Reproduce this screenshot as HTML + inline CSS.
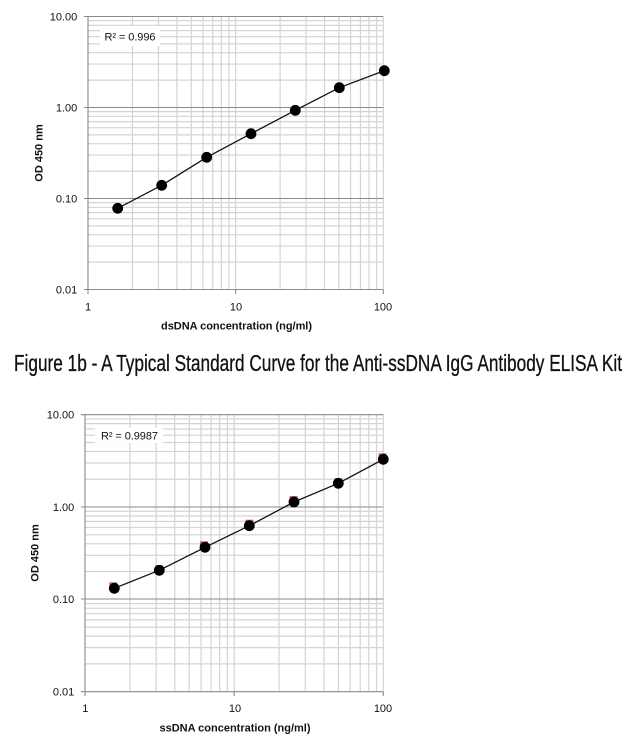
<!DOCTYPE html>
<html><head><meta charset="utf-8"><style>
html,body{margin:0;padding:0;background:#fff;}
svg{display:block;}
text{font-family:"Liberation Sans",sans-serif;}
</style></head><body>
<svg width="629" height="742" viewBox="0 0 629 742" xmlns="http://www.w3.org/2000/svg">
<rect width="629" height="742" fill="#fff"/>

<!-- ============ CHART 1 ============ -->
<g stroke="#d4d4d4" stroke-width="1.2" fill="none">
<path d="M132.45 16.5V289.5M158.45 16.5V289.5M176.89 16.5V289.5M191.2 16.5V289.5M202.9 16.5V289.5M212.78 16.5V289.5M221.34 16.5V289.5M228.89 16.5V289.5M235.65 16.5V289.5M280.1 16.5V289.5M306.1 16.5V289.5M324.54 16.5V289.5M338.85 16.5V289.5M350.55 16.5V289.5M360.43 16.5V289.5M368.99 16.5V289.5M376.54 16.5V289.5M383.3 16.5V289.5"/>
<path d="M88 262.11H383.3M88 246.08H383.3M88 234.71H383.3M88 225.89H383.3M88 218.69H383.3M88 212.6H383.3M88 207.32H383.3M88 202.66H383.3M88 171.11H383.3M88 155.08H383.3M88 143.71H383.3M88 134.89H383.3M88 127.69H383.3M88 121.6H383.3M88 116.32H383.3M88 111.66H383.3M88 80.11H383.3M88 64.08H383.3M88 52.71H383.3M88 43.89H383.3M88 36.69H383.3M88 30.6H383.3M88 25.32H383.3M88 20.66H383.3"/>
</g>
<g stroke="#8a8a8a" stroke-width="1.1" fill="none">
<path d="M84 16.5H383.3M84 107.5H383.3M84 198.5H383.3M84 289.5H383.3"/>
<path d="M88 16.5V289.5M88 289.5V294M235.65 289.5V294M383.3 289.5V294"/>
</g>
<rect x="100" y="26" width="60" height="20" fill="#fff"/>
<text x="104.5" y="40.5" font-size="11" fill="#111" textLength="51">R² = 0.996</text>
<polyline points="117.7,208.3 161.7,185.3 206.7,157.3 251,133.7 295.3,110.3 339.3,87.7 384.3,70.7" fill="none" stroke="#111" stroke-width="1.3" stroke-linejoin="round"/>
<g fill="#000">
<circle cx="117.7" cy="208.3" r="5.4"/>
<circle cx="161.7" cy="185.3" r="5.4"/>
<circle cx="206.7" cy="157.3" r="5.4"/>
<circle cx="251" cy="133.7" r="5.4"/>
<circle cx="295.3" cy="110.3" r="5.4"/>
<circle cx="339.3" cy="87.7" r="5.4"/>
<circle cx="384.3" cy="70.7" r="5.4"/>
</g>
<g font-size="11" fill="#111" text-anchor="end">
<text x="77.3" y="20.5">10.00</text>
<text x="77.3" y="111.5">1.00</text>
<text x="77.3" y="202.5">0.10</text>
<text x="77.3" y="293.5">0.01</text>
</g>
<g font-size="11" fill="#111" text-anchor="middle">
<text x="88" y="310.5">1</text>
<text x="236" y="310.5">10</text>
<text x="383" y="310.5">100</text>
</g>
<text x="236.5" y="329.5" font-size="11" font-weight="bold" fill="#111" text-anchor="middle" textLength="151">dsDNA concentration (ng/ml)</text>
<text transform="translate(42.5,153) rotate(-90)" font-size="11" font-weight="bold" fill="#111" text-anchor="middle">OD 450 nm</text>

<!-- caption -->
<text x="14" y="371" font-size="23" fill="#111" stroke="#111" stroke-width="0.3" style="font-family:'Liberation Sans Narrow','Liberation Sans',sans-serif" textLength="608" lengthAdjust="spacingAndGlyphs">Figure 1b - A Typical Standard Curve for the Anti-ssDNA IgG Antibody ELISA Kit</text>

<!-- ============ CHART 2 ============ -->
<g stroke="#d4d4d4" stroke-width="1.2" fill="none">
<path d="M129.9 414.7V691.7M156.16 414.7V691.7M174.8 414.7V691.7M189.25 414.7V691.7M201.06 414.7V691.7M211.05 414.7V691.7M219.7 414.7V691.7M227.37 414.7V691.7M234.15 414.7V691.7M279.05 414.7V691.7M305.31 414.7V691.7M323.95 414.7V691.7M338.4 414.7V691.7M350.21 414.7V691.7M360.2 414.7V691.7M368.85 414.7V691.7M376.52 414.7V691.7M383.3 414.7V691.7"/>
<path d="M85 663.91H383.3M85 647.65H383.3M85 636.11H383.3M85 627.16H383.3M85 619.85H383.3M85 613.67H383.3M85 608.32H383.3M85 603.6H383.3M85 571.58H383.3M85 555.32H383.3M85 543.78H383.3M85 534.83H383.3M85 527.52H383.3M85 521.34H383.3M85 515.99H383.3M85 511.27H383.3M85 479.24H383.3M85 462.98H383.3M85 451.44H383.3M85 442.49H383.3M85 435.18H383.3M85 429H383.3M85 423.65H383.3M85 418.93H383.3"/>
</g>
<g stroke="#8a8a8a" stroke-width="1.1" fill="none">
<path d="M81 414.7H383.3M81 507H383.3M81 599H383.3M81 691.7H383.3"/>
<path d="M85 414.7V691.7M85 691.7V696M234.15 691.7V696M383.3 691.7V696"/>
</g>
<rect x="95" y="428" width="68" height="15" fill="#fff"/>
<text x="101" y="439.5" font-size="11" fill="#111" textLength="57">R² = 0.9987</text>
<g fill="#c0504d" opacity="0.85">
<rect x="109.3" y="582.3" width="8" height="8"/>
<rect x="155.3" y="565.3" width="8" height="8"/>
<rect x="200" y="541.3" width="8" height="8"/>
<rect x="245.3" y="519.7" width="8" height="8"/>
<rect x="289.5" y="496" width="8" height="8"/>
<rect x="334.3" y="478.3" width="8" height="8"/>
<rect x="378.5" y="453.3" width="8" height="8"/>
</g>
<polyline points="114.3,588.3 159.3,570.3 205,547.3 249.3,525.7 294,502 338.3,483.3 383.3,459.3" fill="none" stroke="#111" stroke-width="1.3" stroke-linejoin="round"/>
<g fill="#000">
<circle cx="114.3" cy="588.3" r="5.4"/>
<circle cx="159.3" cy="570.3" r="5.4"/>
<circle cx="205" cy="547.3" r="5.4"/>
<circle cx="249.3" cy="525.7" r="5.4"/>
<circle cx="294" cy="502" r="5.4"/>
<circle cx="338.3" cy="483.3" r="5.4"/>
<circle cx="383.3" cy="459.3" r="5.4"/>
</g>
<g font-size="11" fill="#111" text-anchor="end">
<text x="74.3" y="418.7">10.00</text>
<text x="74.3" y="511">1.00</text>
<text x="74.3" y="603">0.10</text>
<text x="74.3" y="695.7">0.01</text>
</g>
<g font-size="11" fill="#111" text-anchor="middle">
<text x="85.3" y="712">1</text>
<text x="235" y="712">10</text>
<text x="383" y="712">100</text>
</g>
<text x="235" y="731.5" font-size="11" font-weight="bold" fill="#111" text-anchor="middle" textLength="151">ssDNA concentration (ng/ml)</text>
<text transform="translate(38.5,553) rotate(-90)" font-size="11" font-weight="bold" fill="#111" text-anchor="middle">OD 450 nm</text>
</svg>
</body></html>
